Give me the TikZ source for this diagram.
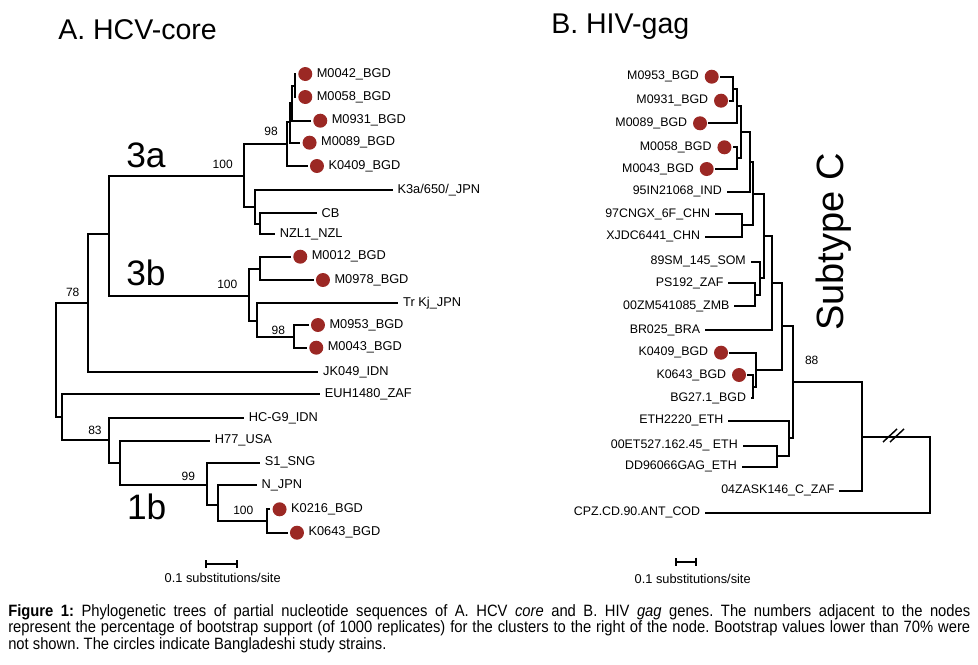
\documentclass[tikz,border=0pt]{standalone}
\usepackage{fontspec}
\setmainfont{Liberation Sans}
\newfontfamily\capfont[FakeStretch=0.9]{Liberation Sans}
\usetikzlibrary{positioning, arrows.meta}
\definecolor{bgdred}{RGB}{155,40,36}
\tikzset{
    x=0.75pt, y=-0.75pt,
    branch/.style={line width=1.5pt},
    bgd/.style={circle, fill=bgdred, minimum size=10.5pt, inner sep=0pt},
    tipA/.style={inner sep=0pt, font=\fontsize{9.6}{11}\selectfont},
    tipB/.style={inner sep=0pt, font=\fontsize{9.3}{11}\selectfont},
    boot/.style={inner sep=0pt, font=\fontsize{9}{10}\selectfont},
    clade/.style={inner sep=0pt, font=\fontsize{26.5}{30}\selectfont},
    panel/.style={inner sep=0pt, anchor=west, font=\fontsize{21.4}{24}\selectfont},
    scaletext/.style={inner sep=0pt, font=\fontsize{9.6}{11}\selectfont},
}

\begin{document}
\begin{tikzpicture}
    \useasboundingbox (0,0) rectangle (978,664);

    \node[panel] (titleA) at (58,30) {A. HCV-core};
    \node[panel] (titleB) at (551,27) {B. HIV-gag};

    % A. HCV-core: inner nodes
    \coordinate (rootL) at (55.7,360.3);
    \coordinate (n78) at (88.3,303.3);
    \coordinate (n3) at (109,234);
    \coordinate (n3a) at (244,176);
    \coordinate (n98a) at (286.7,144);
    \coordinate (nA1) at (290,122);
    \coordinate (nA2) at (292,103);
    \coordinate (nA3) at (295,85.5);
    \coordinate (n3ac) at (255,206.7);
    \coordinate (nCB) at (260,223.5);
    \coordinate (n3b) at (249.3,296);
    \coordinate (n3b1) at (260,268.5);
    \coordinate (n3b2) at (257.3,320.7);
    \coordinate (n98b) at (294,336.5);
    \coordinate (nB) at (61.7,417.3);
    \coordinate (n83) at (109,440);
    \coordinate (n1b) at (120,462.5);
    \coordinate (n99) at (206.7,485);
    \coordinate (nN) at (217.7,505);
    \coordinate (n100c) at (266.7,520.5);

    % A. HCV-core: tips
    \coordinate (aM0042) at (296,74);
    \coordinate (aM0058) at (296,97);
    \coordinate (aM0931) at (311,120.7);
    \coordinate (aM0089) at (300.3,142.7);
    \coordinate (aK0409) at (307.7,166);
    \coordinate (aK3a) at (393.3,190);
    \coordinate (aCB) at (316.7,212.7);
    \coordinate (aNZL1) at (275,234);
    \coordinate (aM0012) at (291,256.7);
    \coordinate (aM0978) at (313.7,280);
    \coordinate (aTrKj) at (398.3,303.3);
    \coordinate (aM0953) at (308.7,325);
    \coordinate (aM0043) at (307,347.7);
    \coordinate (aJK049) at (318.3,372);
    \coordinate (aEUH1480) at (320,394);
    \coordinate (aHCG9) at (244,418.3);
    \coordinate (aH77) at (210,440.7);
    \coordinate (aS1) at (260,462.7);
    \coordinate (aNJPN) at (256.7,485);
    \coordinate (aK0216) at (270.3,509.3);
    \coordinate (aK0643) at (287.7,532.7);

    \draw[branch]
        (rootL) |- (n78) (rootL) |- (nB)
        (n78) |- (n3) (n78) |- (aJK049)
        (n3) |- (n3a) (n3) |- (n3b)
        (n3a) |- (n98a) (n3a) |- (n3ac)
        (n98a) |- (nA1) (n98a) |- (aK0409)
        (nA1) |- (nA2) (nA1) |- (aM0089)
        (nA2) |- (nA3) (nA2) |- (aM0931)
        (nA3) |- (aM0042) (nA3) |- (aM0058)
        (n3ac) |- (aK3a) (n3ac) |- (nCB)
        (nCB) |- (aCB) (nCB) |- (aNZL1)
        (n3b) |- (n3b1) (n3b) |- (n3b2)
        (n3b1) |- (aM0012) (n3b1) |- (aM0978)
        (n3b2) |- (aTrKj) (n3b2) |- (n98b)
        (n98b) |- (aM0953) (n98b) |- (aM0043)
        (nB) |- (aEUH1480) (nB) |- (n83)
        (n83) |- (aHCG9) (n83) |- (n1b)
        (n1b) |- (aH77) (n1b) |- (n99)
        (n99) |- (aS1) (n99) |- (nN)
        (nN) |- (aNJPN) (nN) |- (n100c)
        (n100c) |- (aK0216) (n100c) |- (aK0643);

    \node[bgd, right=1.5pt of aM0042] (daM0042) {};
    \node[tipA, right=3pt of daM0042] (laM0042) {M0042\_BGD};
    \node[bgd, right=1.5pt of aM0058] (daM0058) {};
    \node[tipA, right=3pt of daM0058] (laM0058) {M0058\_BGD};
    \node[bgd, right=1.5pt of aM0931] (daM0931) {};
    \node[tipA, right=3pt of daM0931] (laM0931) {M0931\_BGD};
    \node[bgd, right=1.5pt of aM0089] (daM0089) {};
    \node[tipA, right=3pt of daM0089] (laM0089) {M0089\_BGD};
    \node[bgd, right=1.5pt of aK0409] (daK0409) {};
    \node[tipA, right=3pt of daK0409] (laK0409) {K0409\_BGD};
    \node[tipA, right=3pt of aK3a] (laK3a) {K3a/650/\_JPN};
    \node[tipA, right=3.5pt of aCB] (laCB) {CB};
    \node[tipA, right=3.5pt of aNZL1] (laNZL1) {NZL1\_NZL};
    \node[bgd, right=1.5pt of aM0012] (daM0012) {};
    \node[tipA, right=3pt of daM0012] (laM0012) {M0012\_BGD};
    \node[bgd, right=1.5pt of aM0978] (daM0978) {};
    \node[tipA, right=3pt of daM0978] (laM0978) {M0978\_BGD};
    \node[tipA, right=3.5pt of aTrKj] (laTrKj) {Tr Kj\_JPN};
    \node[bgd, right=1.5pt of aM0953] (daM0953) {};
    \node[tipA, right=3pt of daM0953] (laM0953) {M0953\_BGD};
    \node[bgd, right=1.5pt of aM0043] (daM0043) {};
    \node[tipA, right=3pt of daM0043] (laM0043) {M0043\_BGD};
    \node[tipA, right=3.5pt of aJK049] (laJK049) {JK049\_IDN};
    \node[tipA, right=3.5pt of aEUH1480] (laEUH1480) {EUH1480\_ZAF};
    \node[tipA, right=3.5pt of aHCG9] (laHCG9) {HC-G9\_IDN};
    \node[tipA, right=3.5pt of aH77] (laH77) {H77\_USA};
    \node[tipA, right=3.5pt of aS1] (laS1) {S1\_SNG};
    \node[tipA, right=3.5pt of aNJPN] (laNJPN) {N\_JPN};
    \node[bgd, right=1.5pt of aK0216] (daK0216) {};
    \node[tipA, right=3pt of daK0216] (laK0216) {K0216\_BGD};
    \node[bgd, right=1.5pt of aK0643] (daK0643) {};
    \node[tipA, right=3pt of daK0643] (laK0643) {K0643\_BGD};

    \node[boot] (bs3a) at (222.7,164.3) {100};
    \node[boot] (bs98a) at (271,131.7) {98};
    \node[boot] (bs3b) at (227.3,284.3) {100};
    \node[boot] (bs98b) at (278.3,330) {98};
    \node[boot] (bs78) at (72.7,292.3) {78};
    \node[boot] (bs83) at (95,430.7) {83};
    \node[boot] (bs99) at (188.3,476) {99};
    \node[boot] (bs100c) at (243.3,510.7) {100};

    \node[clade] (c3a) at (146,155) {3a};
    \node[clade] (c3b) at (146,273.3) {3b};
    \node[clade] (c1b) at (146.7,507.3) {1b};

    \coordinate (sbL1) at (205,564);
    \coordinate (sbL2) at (238.3,564);
    \draw[branch, {Bar[width=6pt]}-{Bar[width=6pt]}] (sbL1) -- (sbL2);
    \node[scaletext] (scL) at (222.7,578.3) {0.1 substitutions/site};

    % B. HIV-gag: inner nodes
    \coordinate (r1) at (732.7,88.7);
    \coordinate (r2) at (736.7,106);
    \coordinate (r3) at (736.7,158.2);
    \coordinate (r4) at (740.7,132);
    \coordinate (r5) at (750,161.8);
    \coordinate (r6) at (741.7,225.3);
    \coordinate (r7) at (753.3,193.5);
    \coordinate (r8) at (755,294.7);
    \coordinate (r9) at (760,278.2);
    \coordinate (r10) at (764,235.8);
    \coordinate (r11) at (771.7,283);
    \coordinate (r12) at (753.3,386.7);
    \coordinate (r13) at (756,369.7);
    \coordinate (r14) at (781.7,326.3);
    \coordinate (r15) at (777.3,456);
    \coordinate (r16) at (789.3,438.3);
    \coordinate (r17) at (793.3,382.3);
    \coordinate (r18) at (861.7,436.5);
    \coordinate (rootR) at (930,474.6);

    % B. HIV-gag: tips
    \coordinate (bM0953) at (720,76.7);
    \coordinate (bM0931) at (729.3,100.7);
    \coordinate (bM0089) at (708.3,123.3);
    \coordinate (bM0058) at (732.7,147.3);
    \coordinate (bM0043) at (715,169);
    \coordinate (b95IN) at (726.7,191.7);
    \coordinate (b97CN) at (715,214);
    \coordinate (bXJDC) at (705,236.7);
    \coordinate (b89SM) at (750.7,261.7);
    \coordinate (bPS192) at (728.3,283.3);
    \coordinate (b00ZM) at (734.3,306);
    \coordinate (bBR025) at (705,330);
    \coordinate (bK0409) at (729.3,352.7);
    \coordinate (bK0643) at (747.3,375);
    \coordinate (bBG27) at (751,398.3);
    \coordinate (bETH2220) at (728.3,420.7);
    \coordinate (b00ET) at (742.7,445.5);
    \coordinate (bDD96) at (741.7,466.7);
    \coordinate (bZASK) at (839.3,490.7);
    \coordinate (bCPZ) at (705,512.7);

    \draw[branch]
        (rootR) |- (r18) (rootR) |- (bCPZ)
        (r18) |- (r17) (r18) |- (bZASK)
        (r17) |- (r14) (r17) |- (r16)
        (r16) |- (bETH2220) (r16) |- (r15)
        (r15) |- (b00ET) (r15) |- (bDD96)
        (r14) |- (r11) (r14) |- (r13)
        (r13) |- (bK0409) (r13) |- (r12)
        (r12) |- (bK0643) (r12) |- (bBG27)
        (r11) |- (r10) (r11) |- (bBR025)
        (r10) |- (r7) (r10) |- (r9)
        (r9) |- (b89SM) (r9) |- (r8)
        (r8) |- (bPS192) (r8) |- (b00ZM)
        (r7) |- (r5) (r7) |- (r6)
        (r6) |- (b97CN) (r6) |- (bXJDC)
        (r5) |- (r4) (r5) |- (b95IN)
        (r4) |- (r2) (r4) |- (r3)
        (r3) |- (bM0058) (r3) |- (bM0043)
        (r2) |- (r1) (r2) |- (bM0089)
        (r1) |- (bM0953) (r1) |- (bM0931);

    % break marks on the long branch
    \coordinate (brk1a) at (883,442);
    \coordinate (brk1b) at (897,429);
    \coordinate (brk2a) at (890,442);
    \coordinate (brk2b) at (904,429);
    \draw[line width=1.1pt] (brk1a) -- (brk1b) (brk2a) -- (brk2b);

    \node[bgd, left=0.75pt of bM0953] (dbM0953) {};
    \node[tipB, left=4pt of dbM0953] (lbM0953) {M0953\_BGD};
    \node[bgd, left=0.75pt of bM0931] (dbM0931) {};
    \node[tipB, left=4pt of dbM0931] (lbM0931) {M0931\_BGD};
    \node[bgd, left=0.75pt of bM0089] (dbM0089) {};
    \node[tipB, left=4pt of dbM0089] (lbM0089) {M0089\_BGD};
    \node[bgd, left=0.75pt of bM0058] (dbM0058) {};
    \node[tipB, left=4pt of dbM0058] (lbM0058) {M0058\_BGD};
    \node[bgd, left=0.75pt of bM0043] (dbM0043) {};
    \node[tipB, left=4pt of dbM0043] (lbM0043) {M0043\_BGD};
    \node[tipB, left=3.5pt of b95IN] (lb95IN) {95IN21068\_IND};
    \node[tipB, left=3.5pt of b97CN] (lb97CN) {97CNGX\_6F\_CHN};
    \node[tipB, left=3.5pt of bXJDC] (lbXJDC) {XJDC6441\_CHN};
    \node[tipB, left=3.5pt of b89SM] (lb89SM) {89SM\_145\_SOM};
    \node[tipB, left=3.5pt of bPS192] (lbPS192) {PS192\_ZAF};
    \node[tipB, left=3.5pt of b00ZM] (lb00ZM) {00ZM541085\_ZMB};
    \node[tipB, left=3.5pt of bBR025] (lbBR025) {BR025\_BRA};
    \node[bgd, left=0.75pt of bK0409] (dbK0409) {};
    \node[tipB, left=4pt of dbK0409] (lbK0409) {K0409\_BGD};
    \node[bgd, left=0.75pt of bK0643] (dbK0643) {};
    \node[tipB, left=4pt of dbK0643] (lbK0643) {K0643\_BGD};
    \node[tipB, left=3.5pt of bBG27] (lbBG27) {BG27.1\_BGD};
    \node[tipB, left=3.5pt of bETH2220] (lbETH2220) {ETH2220\_ETH};
    \node[tipB, left=3.5pt of b00ET] (lb00ET) {00ET527.162.45\_ ETH};
    \node[tipB, left=3.5pt of bDD96] (lbDD96) {DD96066GAG\_ETH};
    \node[tipB, left=3.5pt of bZASK] (lbZASK) {04ZASK146\_C\_ZAF};
    \node[tipB, left=3.5pt of bCPZ] (lbCPZ) {CPZ.CD.90.ANT\_COD};

    \node[boot] (bs88) at (811.7,360.7) {88};
    \node[inner sep=0pt, rotate=90, font=\fontsize{28.5}{32}\selectfont] (subC) at (834,242) {Subtype C};

    \coordinate (sbR1) at (675,561.7);
    \coordinate (sbR2) at (696.7,561.7);
    \draw[branch, {Bar[width=6pt]}-{Bar[width=6pt]}] (sbR1) -- (sbR2);
    \node[scaletext] (scR) at (692.7,579) {0.1 substitutions/site};

    % caption
    \node[anchor=north west, inner sep=0pt, text width=721.5pt, align=justify,
          font=\capfont\fontsize{12.3}{12.4}\selectfont\frenchspacing] (caption) at (8,604)
        {\textbf{Figure 1:} Phylogenetic trees of partial nucleotide sequences of A. HCV \textit{core} and B. HIV \textit{gag} genes. The numbers adjacent to the nodes\linebreak
        represent the percentage of bootstrap support (of 1000 replicates) for the clusters to the right of the node. Bootstrap values lower than 70\% were\linebreak
        not shown. The circles indicate Bangladeshi study strains.};
\end{tikzpicture}
\end{document}
